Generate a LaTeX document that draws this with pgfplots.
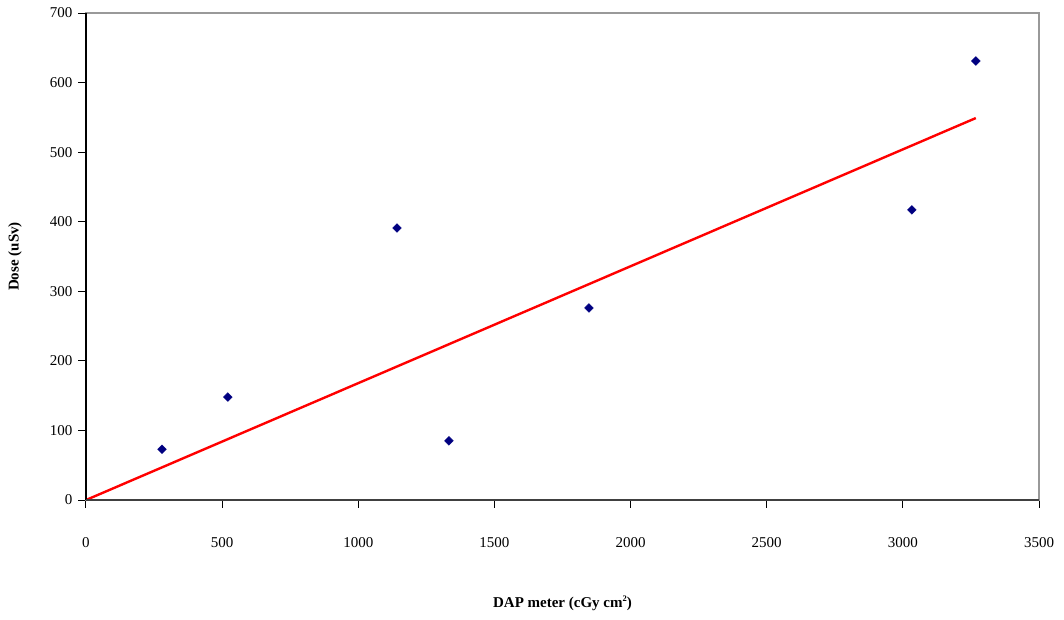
\documentclass[border=0pt]{standalone}
\usepackage{pgfplots}
\pgfplotsset{compat=1.18}
\usepackage{fontspec}
\setmainfont{Liberation Serif}
\definecolor{navymk}{HTML}{000080}
\begin{document}
\fontsize{15}{17}\selectfont
\begin{tikzpicture}
\useasboundingbox (-86pt,-119pt) rectangle (978pt,500pt);
\begin{axis}[
  at={(0pt,0pt)}, anchor=south west,
  scale only axis,
  width=953pt, height=487pt,
  xmin=0, xmax=3500, ymin=0, ymax=700,
  xtick={0,500,...,3500}, ytick={0,100,...,700},
  tick align=outside, xtick pos=bottom, ytick pos=left,
  major tick length=7.5pt,
  tick style={black, line width=1pt},
  axis line style={draw=gray!80, line width=1.3pt},
  /pgf/number format/assume math mode=true,
  /pgf/number format/1000 sep={},
  ticklabel style={font=\fontsize{15}{17}\selectfont},
  xticklabel style={yshift=-25pt},
  yticklabel style={xshift=-1pt},
  xlabel={\textbf{DAP meter (cGy cm\raisebox{0.85ex}{\fontsize{8.5}{9}\selectfont 2})}},
  ylabel={\textbf{Dose (uSv)}},
  xlabel style={at={(axis description cs:0.5,-0.2115)}, anchor=center},
  ylabel style={at={(axis description cs:-0.0745,0.5)}, anchor=center},
  label style={font=\fontsize{15}{17}\selectfont},
  clip=false,
]
\addplot[only marks, mark=square*, mark size=3.1pt, color=navymk, mark options={fill=navymk, draw=navymk, rotate=45}] coordinates {
(279,73) (521,148) (1142,391) (1333,85) (1847,276) (3033,417) (3268,631)
};
\addplot[red, line width=2.4pt, no marks] coordinates {(0,0) (3268,549)};
\draw[black, line width=1.3pt] (rel axis cs:0,0) -- (rel axis cs:0,1);
\draw[black!75, line width=1.5pt] (rel axis cs:0,0) -- (rel axis cs:1,0);
\end{axis}
\end{tikzpicture}
\end{document}
